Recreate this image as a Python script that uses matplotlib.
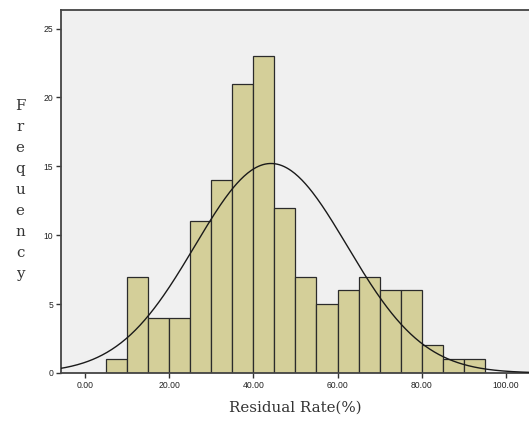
import numpy as np
import matplotlib.pyplot as plt

# histogram data (bin width 5)
bin_left = [5, 10, 15, 20, 25, 30, 35, 40, 45, 50, 55, 60, 65, 70, 75, 80, 85, 90]
counts = [1, 7, 4, 4, 11, 14, 21, 23, 12, 7, 5, 6, 7, 6, 6, 2, 1, 1]
bin_width = 5

x_ticks = [0, 20, 40, 60, 80, 100]
x_ticklabels = ['0.00', '20.00', '40.00', '60.00', '80.00', '100.00']
y_ticks = [0, 5, 10, 15, 20, 25]

# normal curve parameters (fitted)
mean = 44.2
sd = 18.1
n_total = sum(counts)

fig = plt.figure(figsize=(5.29, 4.21), dpi=100)
ax = fig.add_axes([61 / 529, 48 / 421, 1 - 61 / 529, 363 / 421])
ax.set_facecolor('#f0f0f0')

ax.bar(bin_left, counts, width=bin_width, align='edge',
       color='#d4cf99', edgecolor='#2b2b2b', linewidth=0.9, zorder=2)

xs = np.linspace(-6, 106, 400)
ys = n_total * bin_width / (sd * np.sqrt(2 * np.pi)) * np.exp(-0.5 * ((xs - mean) / sd) ** 2)
ax.plot(xs, ys, color='#1a1a1a', linewidth=1.0, zorder=3)

ax.set_xlim(-5.7, 105.5)
ax.set_ylim(0, 26.35)
ax.set_xticks(x_ticks)
ax.set_xticklabels(x_ticklabels)
ax.set_yticks(y_ticks)

for lab in ax.get_xticklabels() + ax.get_yticklabels():
    lab.set_fontfamily('Liberation Sans')
    lab.set_fontsize(6.2)
    lab.set_color('#222222')
ax.tick_params(direction='out', length=3.5, width=1.0, color='#333333', pad=2)

for s in ['left', 'top', 'bottom']:
    ax.spines[s].set_color('#444444')
    ax.spines[s].set_linewidth(1.3)
ax.spines['right'].set_visible(False)

ax.set_xlabel('Residual Rate(%)', family='DejaVu Serif', fontsize=10.8,
              color='#333333', labelpad=8)
fig.text(20 / 529, 1 - 190 / 421, '\n'.join('Frequency'), family='DejaVu Serif',
         fontsize=10.8, color='#333333', ha='center', va='center', linespacing=1.64)

fig.savefig('out.png', dpi=100)
